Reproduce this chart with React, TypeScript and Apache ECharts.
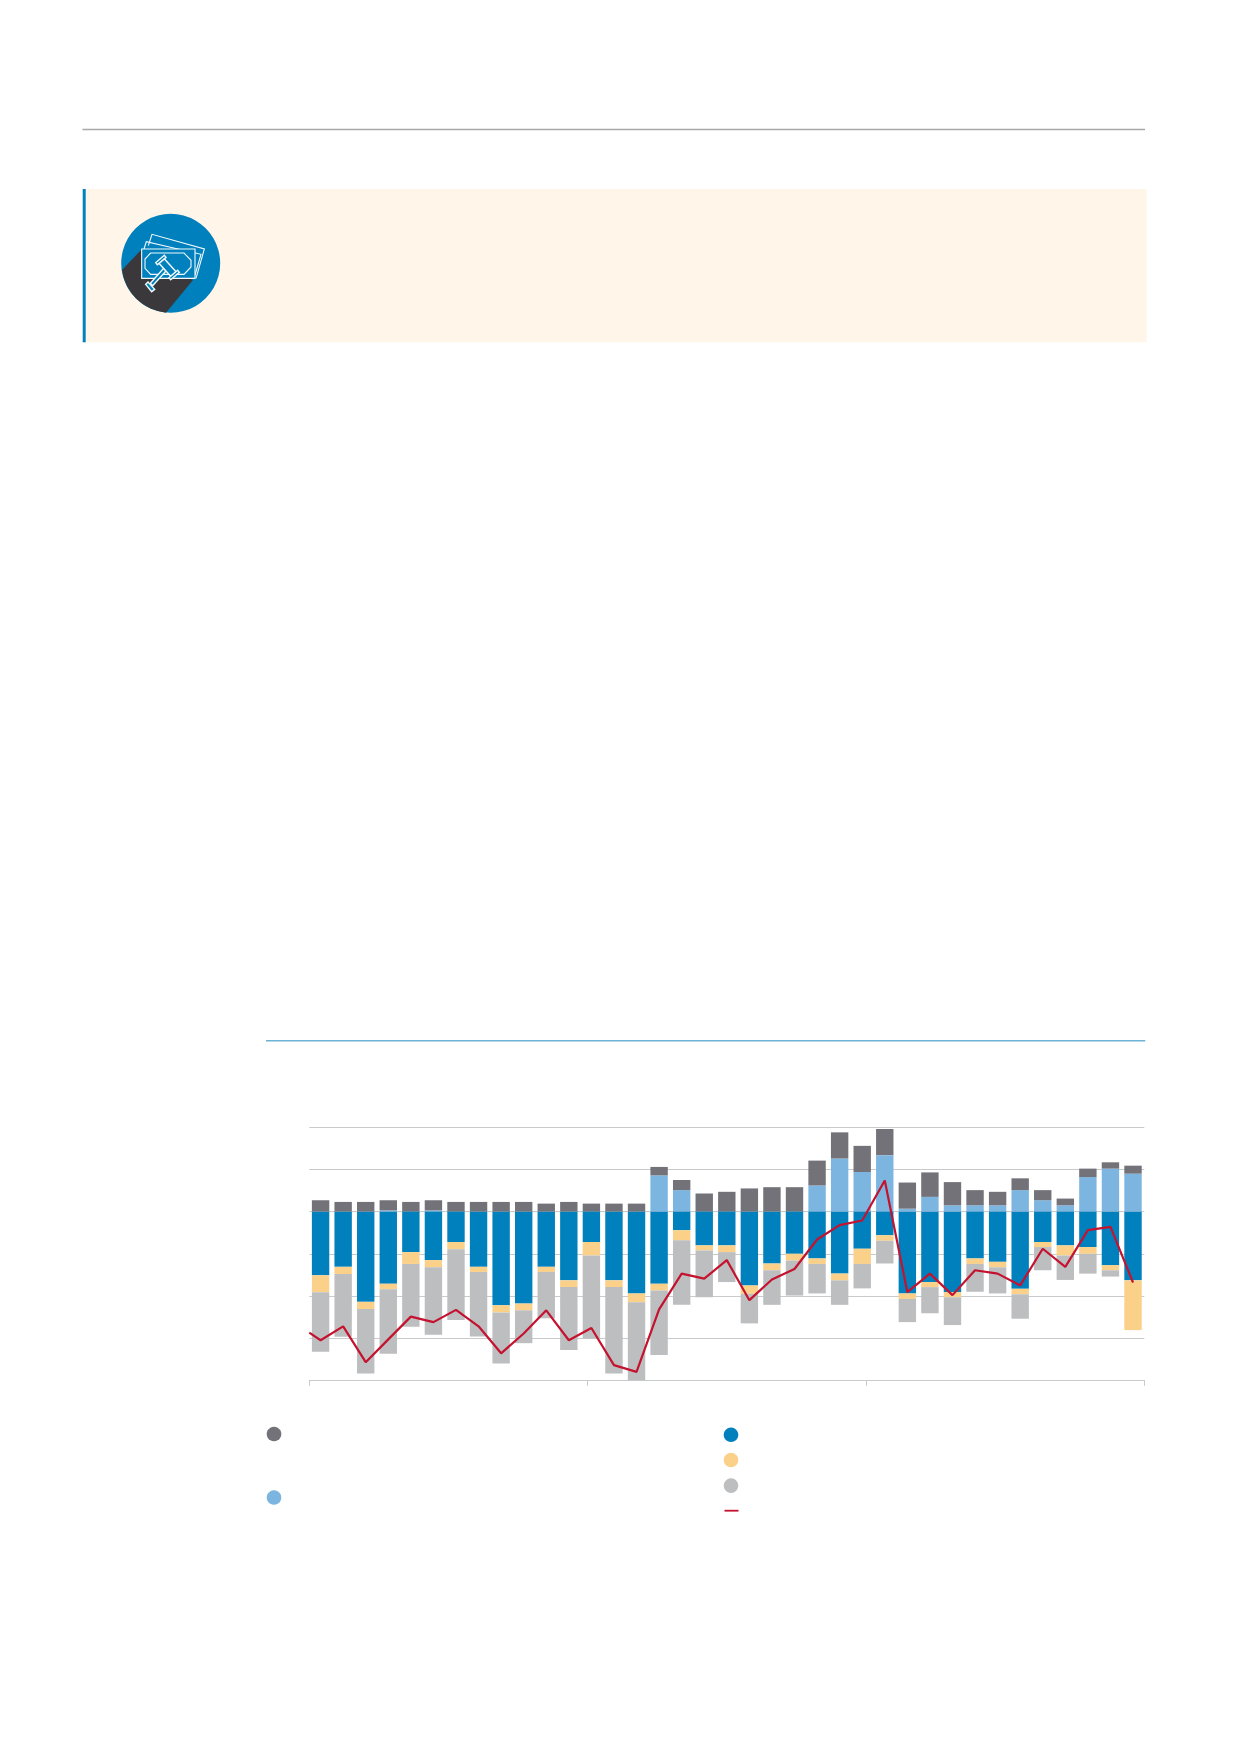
import React, { useEffect, useRef } from "react";
import * as echarts from "echarts";

// Stacked bars, one value per period
const darkGrey = [2.7, 2.3, 2.3, 2.4, 2.3, 2.4, 2.3, 2.3, 2.3, 2.3, 1.9, 2.3, 1.9, 1.9, 1.9, 2.0, 2.4, 4.3, 4.7, 5.5, 5.8, 5.8, 5.9, 6.2, 6.2, 6.2, 6.2, 5.8, 5.5, 3.6, 3.2, 2.8, 2.4, 1.6, 2.0, 1.5, 1.9];
const lightBlue = [0, 0, 0, 0.3, 0, 0.3, 0, 0, 0, 0, 0, 0, 0, 0, 0, 8.6, 5.1, 0, 0, 0, 0, 0, 6.2, 12.6, 9.4, 13.4, 0.7, 3.5, 1.5, 1.5, 1.5, 5.1, 2.7, 1.5, 8.2, 10.2, 9.0];
const blue = [-15.1, -13.1, -21.4, -17.1, -9.6, -11.5, -7.2, -13.1, -22.2, -21.8, -13.1, -16.3, -7.2, -16.3, -19.4, -17.1, -4.4, -8.0, -8.0, -17.5, -12.3, -10.0, -11.1, -14.7, -8.8, -5.6, -19.4, -16.7, -19.1, -11.1, -11.9, -18.3, -7.2, -8.0, -8.4, -12.7, -16.3];
const orange = [-4.0, -1.7, -1.7, -1.3, -2.8, -1.7, -1.7, -1.2, -1.7, -1.6, -1.2, -1.6, -3.2, -1.6, -2.1, -1.6, -2.4, -1.2, -1.6, -2.0, -1.6, -1.6, -1.3, -1.6, -3.6, -1.3, -1.3, -1.2, -1.2, -1.3, -1.3, -1.3, -1.2, -2.4, -1.6, -1.2, -11.8];
const grey = [-14.1, -14.9, -15.3, -15.3, -14.9, -16.0, -16.8, -15.3, -12.1, -7.8, -11.0, -14.9, -19.7, -20.5, -18.6, -15.3, -15.3, -11.1, -7.1, -7.0, -8.2, -8.3, -7.0, -5.8, -5.8, -5.4, -5.5, -6.2, -6.6, -6.6, -6.2, -5.8, -5.5, -5.8, -4.7, -1.5, 0];
// Net line: value where it enters at the axis start, then one per period
const netStart = -28.7;
const net = [-30.5, -27.2, -35.7, -30.3, -24.9, -26.2, -23.3, -27.2, -33.6, -28.9, -23.4, -30.5, -27.6, -36.4, -38.0, -23.2, -14.7, -15.9, -11.5, -21.0, -16.1, -13.6, -6.6, -3.2, -2.1, 7.4, -19.1, -14.7, -19.8, -13.9, -14.7, -17.5, -8.8, -13.1, -4.4, -3.6, -16.8];

const periods = darkGrey.map((_, i) => String(i + 1));
const yearTicks = 3;

const C = {
  dark: "#737278",
  light: "#7cb6e0",
  blue: "#0080bd",
  orange: "#fbd088",
  grey: "#bdbec0",
  red: "#c4122f",
  grid: "#c9cacc",
  panel: "#fff6e9",
  shadow: "#3a383a",
};

const cx = 170.7;
const cy = 263.3;
const r = 49.5;
const shadowPath = `M122 270 L141 250 L193 280 L166 312.7 A${r} ${r} 0 0 1 122 270 Z`;
echarts.graphic.registerShape("iconShadow", echarts.graphic.extendPath(shadowPath, {}) as any);

// icon helper: crop pixels to page pixels
const z = (x: number, y: number) => [115 + x / 3, 225 + y / 3];
const zs = (pts: number[][]) => pts.map(([x, y]) => z(x, y));

const iconStroke = "#f2fafd";
const poly = (pts: number[][], fill: string, lineWidth = 1.1) => ({
  type: "polygon",
  silent: true,
  shape: { points: zs(pts) },
  style: { fill, stroke: iconStroke, lineWidth },
});
const pline = (pts: number[][]) => ({
  type: "polyline",
  silent: true,
  shape: { points: zs(pts) },
  style: { stroke: iconStroke, lineWidth: 1.1, fill: "none" },
});

const decor: any[] = [
  { type: "rect", silent: true, shape: { x: 82.5, y: 128.8, width: 1062.5, height: 1.5 }, style: { fill: "#a8a9ab" } },
  { type: "rect", silent: true, shape: { x: 85.5, y: 189, width: 1061.2, height: 153.3 }, style: { fill: C.panel } },
  { type: "rect", silent: true, shape: { x: 82.7, y: 189, width: 3, height: 153.3 }, style: { fill: C.blue } },
  { type: "circle", silent: true, shape: { cx, cy, r }, style: { fill: C.blue } },
  { type: "iconShadow", silent: true, x: 0, y: 0, scaleX: 1, scaleY: 1, style: { fill: C.shadow } },
  pline([[100, 62], [111, 28], [268, 72], [243, 160]]),
  pline([[87, 72], [94, 50], [258, 88], [240, 150]]),
  poly([[80, 72], [240, 72], [240, 160], [80, 160]], C.blue),
  pline([[107, 84], [207, 84], [228, 106], [228, 126], [207, 148], [107, 148], [90, 130], [90, 102], [107, 84]]),
  poly([[146, 130], [153, 138], [113, 182], [106, 175]], C.blue, 1.4),
  poly([[92, 178], [99, 171], [119, 193], [110, 200]], C.blue, 1.4),
  poly([[132, 115], [148, 101], [183, 140], [167, 154]], C.blue, 1.4),
  poly([[122, 113], [148, 91], [153, 97], [127, 119]], C.blue, 1.4),
  poly([[162, 158], [188, 136], [193, 142], [167, 164]], C.blue, 1.4),
  { type: "rect", silent: true, shape: { x: 266, y: 1040, width: 879.3, height: 1.6 }, style: { fill: "#6eb3d6" } },
  { type: "circle", silent: true, shape: { cx: 274, cy: 1434, r: 7.3 }, style: { fill: C.dark } },
  { type: "circle", silent: true, shape: { cx: 274, cy: 1497.5, r: 7.3 }, style: { fill: C.light } },
  { type: "circle", silent: true, shape: { cx: 731, cy: 1434.8, r: 7.3 }, style: { fill: C.blue } },
  { type: "circle", silent: true, shape: { cx: 731, cy: 1460, r: 7.3 }, style: { fill: C.orange } },
  { type: "circle", silent: true, shape: { cx: 731, cy: 1485.6, r: 7.3 }, style: { fill: C.grey } },
  { type: "rect", silent: true, shape: { x: 724.5, y: 1509.8, width: 14, height: 1.8 }, style: { fill: C.red } },
];

const barSeries = (name: string, data: number[], color: string) => ({
  name,
  type: "bar",
  stack: "total",
  xAxisIndex: 0,
  yAxisIndex: 0,
  barWidth: 17.4,
  data,
  itemStyle: { color },
  emphasis: { disabled: true },
});

export default function App() {
  const ref = useRef<HTMLDivElement>(null);
  useEffect(() => {
    const chart = echarts.init(ref.current!, undefined, { renderer: "svg" });
    const lineData = [[0, netStart], ...net.map((v, i) => [i + 0.5, v])];
    chart.setOption({
      animation: false,
      backgroundColor: "#ffffff",
      graphic: decor,
      grid: { left: 309.3, right: 94.7, top: 1127.3, bottom: 371.7, containLabel: false },
      xAxis: [
        { type: "category", data: periods, show: false, boundaryGap: true },
        {
          type: "value",
          min: 0,
          max: yearTicks,
          interval: 1,
          position: "bottom",
          axisLine: { show: true, onZero: false, lineStyle: { color: C.grid, width: 1 } },
          axisTick: { show: true, length: 5.5, lineStyle: { color: C.grid, width: 1 } },
          axisLabel: { show: false },
          splitLine: { show: false },
        },
        { type: "value", min: 0, max: periods.length, show: false },
      ],
      yAxis: {
        type: "value",
        min: -40,
        max: 20,
        interval: 10,
        axisLine: { show: false },
        axisTick: { show: false },
        axisLabel: { show: false },
        splitLine: { show: true, lineStyle: { color: C.grid, width: 1 } },
      },
      series: [
        barSeries("Light blue", lightBlue, C.light),
        barSeries("Dark grey", darkGrey, C.dark),
        barSeries("Blue", blue, C.blue),
        barSeries("Orange", orange, C.orange),
        barSeries("Grey", grey, C.grey),
        {
          name: "Net",
          type: "line",
          xAxisIndex: 2,
          yAxisIndex: 0,
          data: lineData,
          symbol: "none",
          smooth: false,
          lineStyle: { color: C.red, width: 2.2 },
          z: 5,
        },
      ],
    });
    return () => chart.dispose();
  }, []);
  return <div ref={ref} style={{ position: "absolute", left: 0, top: 0, width: 1239, height: 1752 }} />;
}
